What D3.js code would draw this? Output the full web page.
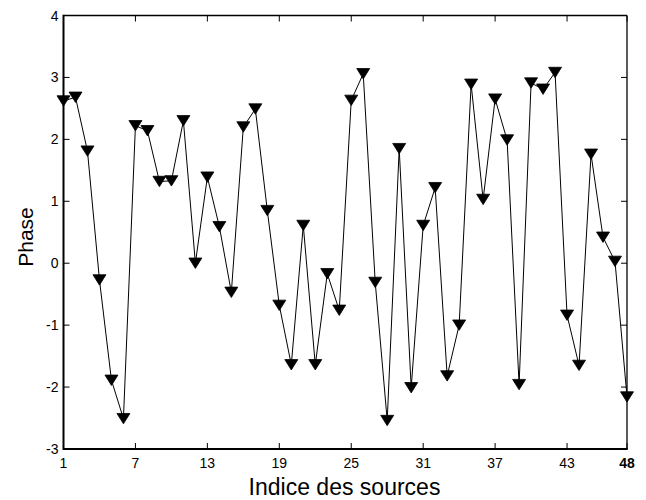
<!DOCTYPE html>
<html>
<head>
<meta charset="utf-8">
<script src="https://cdn.jsdelivr.net/npm/d3@7"></script>
<style>
  html, body { margin: 0; padding: 0; background: #fff; }
  svg { display: block; }
  text { font-family: "Liberation Sans", Arial, Helvetica, sans-serif; fill: #000; }
</style>
</head>
<body>
<svg id="chart" width="646" height="500"></svg>
<script>
const sourceIndex = d3.range(1, 49);
const phase = [
  2.62, 2.68, 1.81, -0.27, -1.89, -2.51, 2.22, 2.14, 1.32, 1.33,
  2.30, 0.00, 1.39, 0.59, -0.47, 2.20, 2.49, 0.85, -0.68, -1.64,
  0.61, -1.64, -0.17, -0.76, 2.63, 3.06, -0.31, -2.54, 1.85, -2.01,
  0.61, 1.22, -1.82, -1.00, 2.89, 1.03, 2.65, 1.99, -1.96, 2.91,
  2.81, 3.08, -0.84, -1.65, 1.76, 0.42, 0.03, -2.16
];
const xTicks = [1, 7, 13, 19, 25, 31, 37, 43, 48];
const yTicks = [-3, -2, -1, 0, 1, 2, 3, 4];
const xLabel = "Indice des sources";
const yLabel = "Phase";

const svg = d3.select("#chart");
const L = 63.5, R = 627, T = 15.5, B = 449;
const x = d3.scaleLinear().domain([1, 48]).range([L, R]);
const y = d3.scaleLinear().domain([-3, 4]).range([B, T]);
const tickLen = 6;

// ticks inside on all four sides
const g = svg.append("g");
xTicks.forEach(v => {
  g.append("line").attr("x1", x(v)).attr("x2", x(v)).attr("y1", B).attr("y2", B - tickLen)
    .attr("stroke", "#000").attr("stroke-width", 1);
  g.append("line").attr("x1", x(v)).attr("x2", x(v)).attr("y1", T).attr("y2", T + tickLen)
    .attr("stroke", "#000").attr("stroke-width", 1);
  g.append("text").attr("x", x(v)).attr("y", 467.5).attr("text-anchor", "middle")
    .attr("font-size", 14).attr("font-weight", v === 48 ? "bold" : "normal").text(v);
});
yTicks.forEach(v => {
  g.append("line").attr("x1", L).attr("x2", L + tickLen).attr("y1", y(v)).attr("y2", y(v))
    .attr("stroke", "#000").attr("stroke-width", 1);
  g.append("line").attr("x1", R).attr("x2", R - tickLen).attr("y1", y(v)).attr("y2", y(v))
    .attr("stroke", "#000").attr("stroke-width", 1);
  g.append("text").attr("x", 58.5).attr("y", y(v)).attr("dy", "0.36em").attr("text-anchor", "end")
    .attr("font-size", 14).text(v);
});

// box
svg.append("line").attr("x1", L).attr("x2", R).attr("y1", T).attr("y2", T).attr("stroke", "#000").attr("stroke-width", 1.3);
svg.append("line").attr("x1", R).attr("x2", R).attr("y1", T).attr("y2", B).attr("stroke", "#000").attr("stroke-width", 1.3);
svg.append("line").attr("x1", L).attr("x2", R + 0.7).attr("y1", B).attr("y2", B).attr("stroke", "#000").attr("stroke-width", 2);
svg.append("line").attr("x1", L).attr("x2", L).attr("y1", T - 0.7).attr("y2", B + 1).attr("stroke", "#000").attr("stroke-width", 2);

// line
const data = sourceIndex.map((s, i) => ({ s, v: phase[i] }));
svg.append("path").datum(data)
  .attr("d", d3.line().x(d => x(d.s)).y(d => y(d.v)))
  .attr("fill", "none").attr("stroke", "#000").attr("stroke-width", 1);

// downward triangle markers
const hw = 6.5, hh = 5.2;
svg.append("g").selectAll("path").data(data).join("path")
  .attr("transform", d => `translate(${x(d.s)},${y(d.v)})`)
  .attr("d", `M${-hw},${-hh}L${hw},${-hh}L0,${hh}Z`)
  .attr("fill", "#000").attr("stroke", "#000").attr("stroke-width", 0.8);

// axis labels
svg.append("text").attr("x", (249 + 440) / 2).attr("y", 495).attr("text-anchor", "middle")
  .attr("font-size", 23).text(xLabel);
svg.append("text").attr("transform", "translate(33,237) rotate(-90)").attr("text-anchor", "middle")
  .attr("font-size", 21).text(yLabel);
</script>
</body>
</html>
